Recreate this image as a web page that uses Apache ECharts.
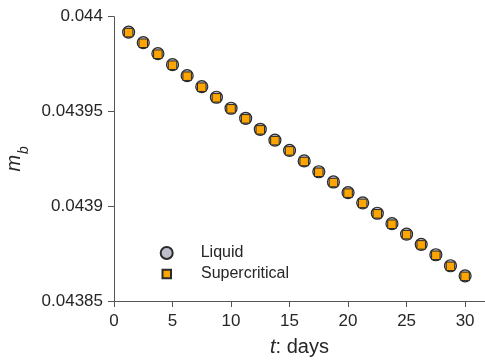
<!DOCTYPE html>
<html>
<head>
<meta charset="utf-8">
<script src="https://cdn.jsdelivr.net/npm/echarts@6/dist/echarts.min.js"></script>
<style>
  html, body { margin: 0; padding: 0; background: #ffffff; }
  #chart { width: 485px; height: 361px; }
</style>
</head>
<body>
<div id="chart"></div>
<script>
// Time in days at each sample
const days = [1.25, 2.5, 3.75, 5, 6.25, 7.5, 8.75, 10, 11.25, 12.5, 13.75, 15,
              16.25, 17.5, 18.75, 20, 21.25, 22.5, 23.75, 25, 26.25, 27.5, 28.75, 30];

// m_b for the liquid case
const liquid = [0.0439919, 0.0439863, 0.0439805, 0.0439747, 0.0439689, 0.0439631,
                0.0439575, 0.0439517, 0.0439464, 0.0439406, 0.0439349, 0.0439295,
                0.0439239, 0.0439182, 0.0439128, 0.0439072, 0.0439018, 0.0438963,
                0.0438908, 0.0438853, 0.0438799, 0.0438744, 0.0438686, 0.0438633];

// m_b for the supercritical case
const supercritical = [0.0439916, 0.0439860, 0.0439802, 0.0439744, 0.0439686, 0.0439628,
                       0.0439572, 0.0439514, 0.0439461, 0.0439403, 0.0439346, 0.0439292,
                       0.0439236, 0.0439179, 0.0439125, 0.0439069, 0.0439015, 0.0438960,
                       0.0438905, 0.0438850, 0.0438796, 0.0438741, 0.0438683, 0.0438630];

const xTicks = [0, 5, 10, 15, 20, 25, 30];
const yTicks = [0.04385, 0.0439, 0.04395, 0.044];

const FONT = '"Liberation Sans", Arial, Helvetica, sans-serif';
const AXIS_COLOR = '#555555';
const TEXT_COLOR = '#262626';

const pairs = (xs, ys) => xs.map((x, i) => [x, ys[i]]);

const chart = echarts.init(document.getElementById('chart'), null, { renderer: 'canvas' });

chart.setOption({
  animation: false,
  backgroundColor: '#ffffff',
  textStyle: { fontFamily: FONT },
  grid: {
    left: 114, right: 0, top: 16.7, bottom: 60,
    containLabel: false,
    outerBoundsMode: 'none'
  },
  xAxis: {
    type: 'value',
    min: 0, max: 31.7, interval: 5,
    name: '{i|t}: days',
    nameLocation: 'middle',
    nameGap: 36,
    nameTextStyle: {
      fontSize: 20, color: TEXT_COLOR, fontFamily: FONT,
      rich: { i: { fontStyle: 'italic', fontSize: 20, color: TEXT_COLOR, fontFamily: FONT } }
    },
    axisLine: { show: true, lineStyle: { color: AXIS_COLOR, width: 1 } },
    axisTick: { show: true, inside: false, length: 6, lineStyle: { color: AXIS_COLOR } },
    axisLabel: {
      fontSize: 17, color: TEXT_COLOR, margin: 12, fontFamily: FONT,
      formatter: v => xTicks.includes(Math.round(v * 1000) / 1000) ? String(Math.round(v)) : ''
    },
    splitLine: { show: false }
  },
  yAxis: {
    type: 'value',
    min: yTicks[0], max: yTicks[yTicks.length - 1], interval: 0.00005,
    name: '{i|m}{s|b}',
    nameLocation: 'middle',
    nameRotate: 90,
    nameGap: 84,
    nameTextStyle: {
      color: TEXT_COLOR, fontFamily: FONT,
      rich: {
        i: { fontStyle: 'italic', fontSize: 20, color: TEXT_COLOR, fontFamily: FONT, verticalAlign: 'bottom', lineHeight: 26 },
        s: { fontStyle: 'italic', fontSize: 14, color: TEXT_COLOR, fontFamily: FONT, verticalAlign: 'bottom', lineHeight: 18, padding: [0, 0, -6, 1] }
      }
    },
    axisLine: { show: true, lineStyle: { color: AXIS_COLOR, width: 1 } },
    axisTick: { show: true, inside: false, length: 6, lineStyle: { color: AXIS_COLOR } },
    axisLabel: {
      fontSize: 17, color: TEXT_COLOR, margin: 11, fontFamily: FONT,
      formatter: v => String(parseFloat(v.toFixed(6)))
    },
    splitLine: { show: false }
  },
  legend: [
    {
      data: ['Liquid'],
      left: 159.7, top: 245, padding: 0,
      itemWidth: 12, itemHeight: 12,
      icon: 'circle',
      textStyle: { fontSize: 16, color: TEXT_COLOR, fontFamily: FONT, padding: [0, 0, 0, 23] }
    },
    {
      data: ['Supercritical'],
      left: 161.5, top: 266, padding: 0,
      itemWidth: 8.5, itemHeight: 8.5,
      icon: 'rect',
      textStyle: { fontSize: 16, color: TEXT_COLOR, fontFamily: FONT, padding: [0, 0, 0, 25] }
    }
  ],
  series: [
    {
      name: 'Liquid',
      type: 'scatter',
      symbol: 'circle',
      symbolSize: 12,
      data: pairs(days, liquid),
      itemStyle: { color: '#bebecb', borderColor: '#2a2a2a', borderWidth: 1.2, opacity: 1 },
      z: 2
    },
    {
      name: 'Supercritical',
      type: 'scatter',
      symbol: 'rect',
      symbolSize: 8.5,
      data: pairs(days, supercritical),
      itemStyle: { color: '#ffa500', borderColor: '#2a2a2a', borderWidth: 1, opacity: 1 },
      z: 3
    }
  ]
});
</script>
</body>
</html>
